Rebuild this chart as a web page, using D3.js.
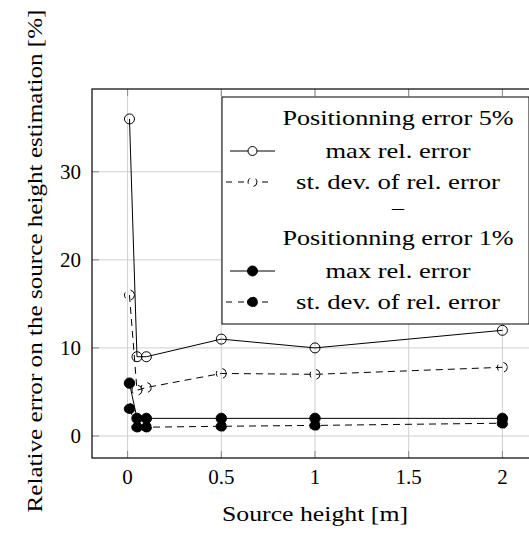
<!DOCTYPE html>
<html>
<head>
<meta charset="utf-8">
<script src="https://cdn.jsdelivr.net/npm/d3@7"></script>
<style>
  html, body { margin: 0; padding: 0; background: #fff; }
  svg { display: block; font-family: "Liberation Serif", "Times New Roman", serif; }
</style>
</head>
<body>
<div id="chart"></div>
<script>
// source heights (m) and relative errors (%)
const heights = [0.01, 0.05, 0.1, 0.5, 1, 2];
const max5 = [36, 9, 9, 11, 10, 12];
const std5 = [16, 5.2, 5.5, 7.1, 7.0, 7.8];
const max1 = [6, 2, 2, 2, 2, 2];
const std1 = [3.1, 1, 1, 1.1, 1.2, 1.45];

const xTicks = [0, 0.5, 1, 1.5, 2];
const yTicks = [0, 10, 20, 30];

const legendRows = [
  { label: "Positionning error 5%", len: 231 },
  { label: "max rel. error", len: 145, dashed: false, filled: false },
  { label: "st. dev. of rel. error", len: 204, dashed: true, filled: false },
  { label: "\u2013", len: 12 },
  { label: "Positionning error 1%", len: 231 },
  { label: "max rel. error", len: 145, dashed: false, filled: true },
  { label: "st. dev. of rel. error", len: 204, dashed: true, filled: true },
];

const W = 529, H = 543;
const PLOT = { left: 92, right: 538, top: 89, bottom: 458 };
const DASH = "7,5";
const FONT = 21;

const svg = d3.select("#chart").append("svg")
  .attr("width", W).attr("height", H);

const x = d3.scaleLinear().domain([-0.19, 2.19]).range([PLOT.left, PLOT.right]);
const y = d3.scaleLinear().domain([-2.5, 39.4]).range([PLOT.bottom, PLOT.top]);

// grid
const grid = svg.append("g").attr("stroke", "#cfcfcf").attr("stroke-width", 1);
grid.selectAll(".gx").data(xTicks).join("line")
  .attr("x1", d => x(d)).attr("x2", d => x(d))
  .attr("y1", PLOT.top).attr("y2", PLOT.bottom);
grid.selectAll(".gy").data(yTicks).join("line")
  .attr("x1", PLOT.left).attr("x2", PLOT.right)
  .attr("y1", d => y(d)).attr("y2", d => y(d));

// inner tick marks
const ticks = svg.append("g").attr("stroke", "#8a8a8a").attr("stroke-width", 1);
ticks.selectAll(".tt").data(xTicks).join("line")
  .attr("x1", d => x(d)).attr("x2", d => x(d))
  .attr("y1", PLOT.top).attr("y2", PLOT.top + 7);
ticks.selectAll(".tb").data(xTicks).join("line")
  .attr("x1", d => x(d)).attr("x2", d => x(d))
  .attr("y1", PLOT.bottom).attr("y2", PLOT.bottom - 7);
ticks.selectAll(".tl").data(yTicks).join("line")
  .attr("x1", PLOT.left).attr("x2", PLOT.left + 7)
  .attr("y1", d => y(d)).attr("y2", d => y(d));

// tick labels
svg.append("g").selectAll("text").data(xTicks).join("text")
  .attr("x", d => x(d)).attr("y", 484)
  .attr("text-anchor", "middle").attr("font-size", FONT)
  .text(d => d3.format("")(d));

svg.append("g").selectAll("text").data(yTicks).join("text")
  .attr("x", 81).attr("y", d => y(d) + 7)
  .attr("text-anchor", "end").attr("font-size", FONT)
  .text(d => d);

// axis titles
svg.append("text")
  .attr("x", (PLOT.left + PLOT.right) / 2).attr("y", 521)
  .attr("text-anchor", "middle").attr("font-size", FONT)
  .attr("textLength", 186).attr("lengthAdjust", "spacingAndGlyphs")
  .text("Source height [m]");

svg.append("text")
  .attr("transform", "translate(42,261) rotate(-90)")
  .attr("text-anchor", "middle").attr("font-size", FONT)
  .attr("textLength", 503).attr("lengthAdjust", "spacingAndGlyphs")
  .text("Relative error on the source height estimation [%]");

// series
const series = [
  { values: max5, dashed: false, filled: false },
  { values: std5, dashed: true, filled: false },
  { values: max1, dashed: false, filled: true },
  { values: std1, dashed: true, filled: true },
];

const line = d3.line().x(d => x(d[0])).y(d => y(d[1]));

function drawMarker(sel, s) {
  sel.attr("r", s.filled ? 5.2 : 5)
    .attr("fill", s.filled ? "#000" : "none")
    .attr("stroke", "#000")
    .attr("stroke-width", 1)
    .attr("stroke-dasharray", s.dashed ? "6,6" : null);
}

series.forEach(s => {
  const pts = heights.map((h, i) => [h, s.values[i]]);
  const g = svg.append("g");
  g.append("path").datum(pts)
    .attr("d", line)
    .attr("fill", "none").attr("stroke", "#000").attr("stroke-width", 1)
    .attr("stroke-dasharray", s.dashed ? DASH : null);
  g.selectAll("circle").data(pts).join("circle")
    .attr("cx", d => x(d[0])).attr("cy", d => y(d[1]))
    .call(drawMarker, s);
});

// frame
svg.append("rect")
  .attr("x", PLOT.left).attr("y", PLOT.top)
  .attr("width", PLOT.right - PLOT.left).attr("height", PLOT.bottom - PLOT.top)
  .attr("fill", "none").attr("stroke", "#000").attr("stroke-width", 1.2);

// legend
const LEG = { left: 222, top: 97, right: 529, bottom: 324 };
const legend = svg.append("g");
legend.append("rect")
  .attr("x", LEG.left).attr("y", LEG.top)
  .attr("width", LEG.right - LEG.left).attr("height", LEG.bottom - LEG.top)
  .attr("fill", "#fff").attr("stroke", "#000").attr("stroke-width", 1);

const rowY = [118, 151, 182, 208, 238, 271, 302];
const textX = 398;

legendRows.forEach((r, i) => {
  const cy = rowY[i];
  legend.append("text")
    .attr("x", textX).attr("y", cy + 7)
    .attr("text-anchor", "middle").attr("font-size", FONT)
    .attr("textLength", r.len).attr("lengthAdjust", "spacingAndGlyphs")
    .text(r.label);
  if (r.dashed === undefined) return;
  legend.append("line")
    .attr("x1", r.dashed ? 226 : 230).attr("x2", r.dashed ? 272 : 275)
    .attr("y1", cy).attr("y2", cy)
    .attr("stroke", "#000").attr("stroke-width", 1)
    .attr("stroke-dasharray", r.dashed ? "6,6" : null);
  legend.append("circle")
    .attr("cx", 252.5).attr("cy", cy)
    .call(drawMarker, r)
    .attr("fill", r.filled ? "#000" : "#fff")
    .attr("r", r.filled ? 5 : 4.5);
});
</script>
</body>
</html>
